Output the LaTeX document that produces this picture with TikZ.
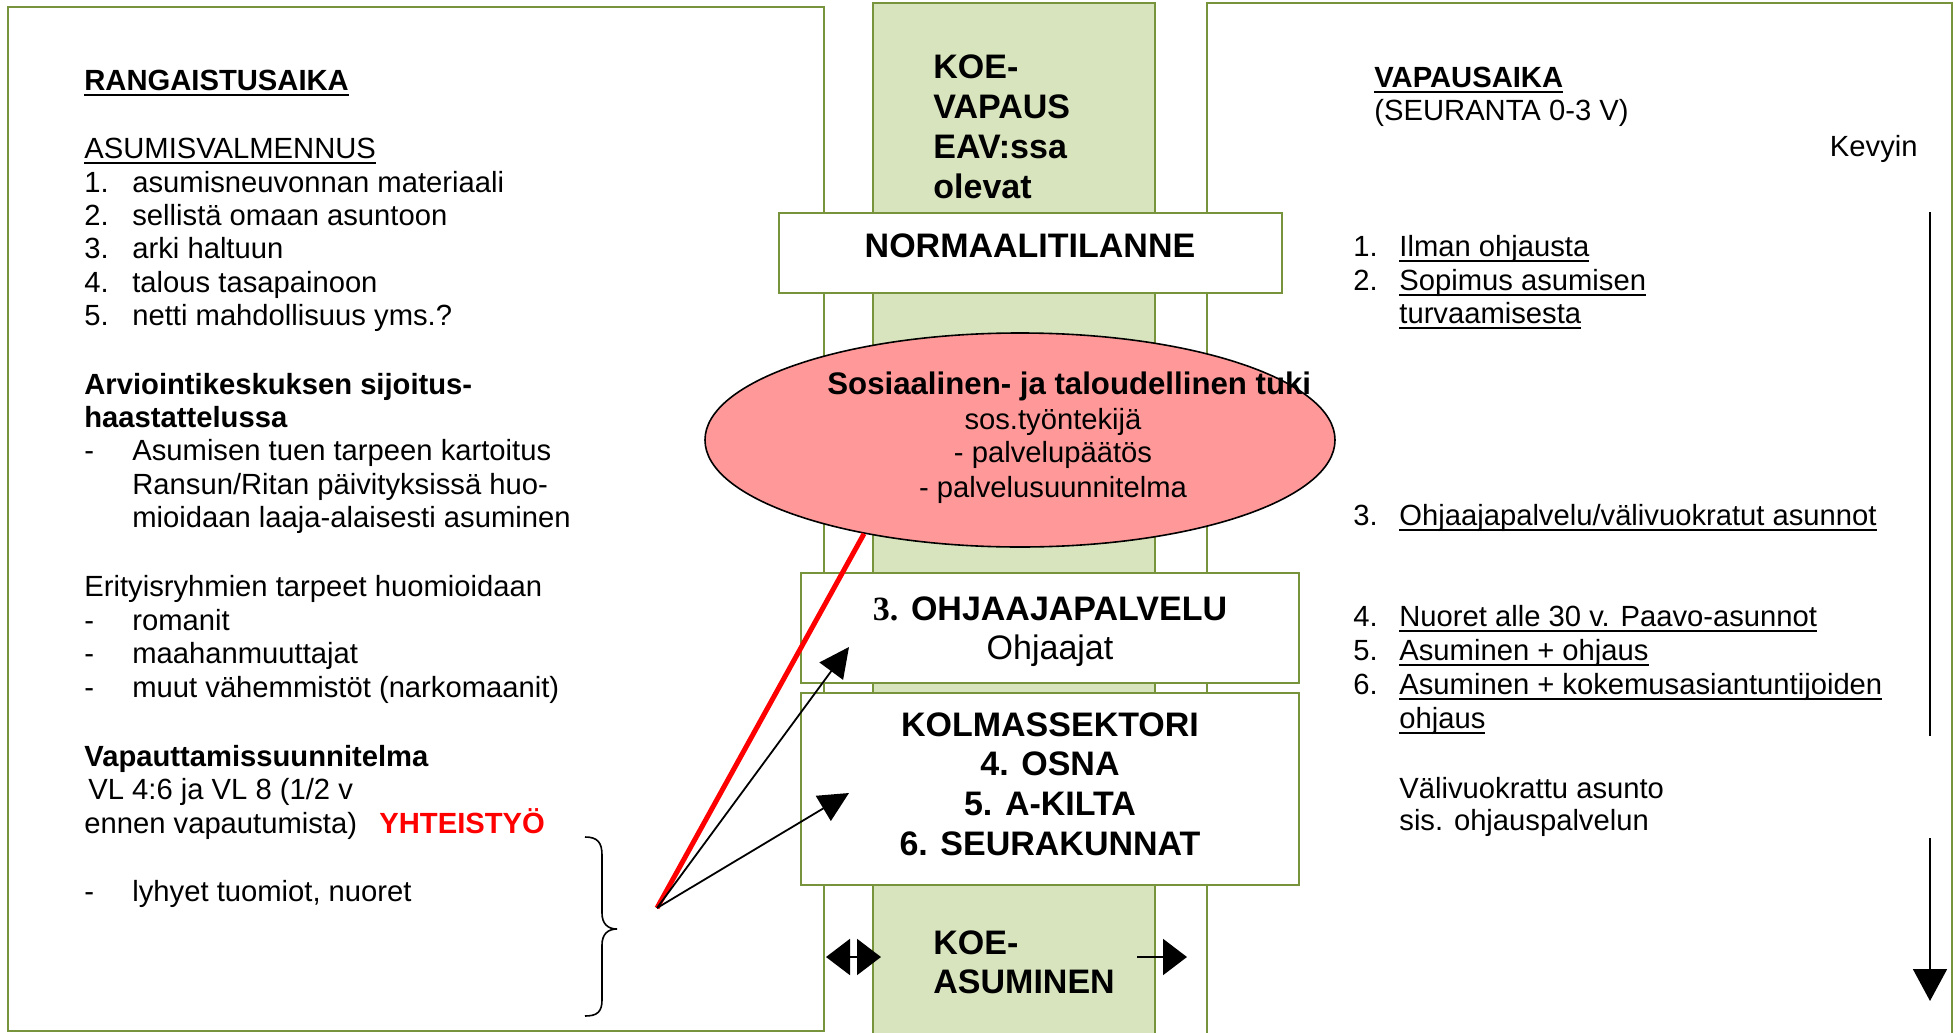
\documentclass[tikz,border=0pt]{standalone}
\usepackage{fontspec}
\setmainfont{Liberation Sans}
\newfontfamily\timesfont{Liberation Serif}
\newcommand{\uln}[1]{\setbox0\hbox{#1}\rlap{\rule[-2.8pt]{\wd0}{0.9pt}}\box0}
\usetikzlibrary{arrows.meta,shapes.geometric}
\definecolor{olivec}{HTML}{77933C}
\definecolor{paleg}{HTML}{D7E4BD}
\definecolor{pinkc}{HTML}{FF9999}
\tikzset{
  txt/.style={anchor=base west, inner sep=0pt, font=\fontsize{14.6}{16.7}\selectfont},
  txtb/.style={anchor=base west, inner sep=0pt, font=\fontsize{14.6}{16.7}\selectfont\bfseries},
  txtc/.style={anchor=base, inner sep=0pt, font=\fontsize{14.6}{16.7}\selectfont},
  bigc/.style={anchor=base, inner sep=0pt, font=\fontsize{17}{20}\selectfont\bfseries},
  bigl/.style={anchor=base west, inner sep=0pt, font=\fontsize{17}{20}\selectfont\bfseries},
  panel/.style={draw=olivec, line width=1pt},
  colbox/.style={draw=olivec, line width=1pt, fill=paleg},
  wbox/.style={draw=olivec, line width=1pt, fill=white, inner sep=0pt},
  ovl/.style={ellipse, draw=black, line width=0.8pt, fill=pinkc, inner sep=0pt},
  arr/.style={line width=0.9pt, -{Triangle[length=15pt,width=14.5pt]}},
  redl/.style={red, line width=2.5pt},
  fat/.style={line width=1pt, {Triangle[length=12pt,width=18pt]}-{Triangle[length=12pt,width=18pt]}},
  fatr/.style={line width=1pt, -{Triangle[length=12pt,width=18pt]}},
  vline/.style={line width=0.9pt},
  varr/.style={line width=0.9pt, -{Triangle[length=16pt,width=17pt]}},
  brace/.style={line width=0.8pt}
}
\newcommand{\nm}[1]{\makebox[24pt][l]{#1}}
\newcommand{\nr}[1]{\makebox[23pt][l]{#1}}
\begin{document}
\begin{tikzpicture}[x=0.5pt,y=-0.5pt]
\useasboundingbox (0,0) rectangle (1955,1033);
% panels
\draw[panel] (8,7) rectangle (824,1031);
\draw[panel] (1207,1045) -- (1207,3) -- (1952,3) -- (1952,1045);
\draw[colbox] (873,1045) -- (873,3) -- (1155,3) -- (1155,1045);
% boxes
\node[wbox, minimum width=251.5pt, minimum height=40pt] (norm) at (1030.5,253) {};
\node[wbox, minimum width=249pt, minimum height=55pt] (ohj) at (1050,628) {};
\node[wbox, minimum width=249pt, minimum height=96pt] (kolm) at (1050,789) {};
\node[ovl, minimum width=315pt, minimum height=107pt] (ell) at (1020,440) {};
% column texts
\node[bigl] (kv1) at (933,78) {KOE-};
\node[bigl] (kv2) at (933,118) {VAPAUS};
\node[bigl] (kv3) at (933,158) {EAV:ssa};
\node[bigl] (kv4) at (933,198) {olevat};
\node[bigc] (normt) at (1030,257) {NORMAALITILANNE};
\node[bigc] (ohjt1) at (1050,620) {{\timesfont\bfseries 3.} OHJAAJAPALVELU};
\node[anchor=base, inner sep=0pt, font=\fontsize{17}{20}\selectfont] (ohjt2) at (1050,659) {Ohjaajat};
\node[bigc] (k1) at (1050,736) {KOLMASSEKTORI};
\node[bigc] (k2) at (1050,775) {4. OSNA};
\node[bigc] (k3) at (1050,815) {5. A-KILTA};
\node[bigc] (k4) at (1050,855) {6. SEURAKUNNAT};
\node[bigl] (ka1) at (933,954) {KOE-};
\node[bigl] (ka2) at (933,993) {ASUMINEN};
% ellipse texts
\node[anchor=base west, inner sep=0pt, font=\fontsize{15.6}{18}\selectfont\bfseries] (e1) at (827,394) {Sosiaalinen- ja taloudellinen tuki};
\node[txtc] (e2) at (1053,429) {sos.työntekijä};
\node[txtc] (e3) at (1053,462) {- palvelupäätös};
\node[txtc] (e4) at (1053,497) {- palvelusuunnitelma};
% left panel texts
\node[txtb] (l1) at (84,90) {\uln{RANGAISTUSAIKA}};
\node[txt] (l2) at (84,158) {\uln{ASUMISVALMENNUS}};
\node[txt] (l3) at (84,192) {\nm{1.}asumisneuvonnan materiaali};
\node[txt] (l4) at (84,225) {\nm{2.}sellistä omaan asuntoon};
\node[txt] (l5) at (84,258) {\nm{3.}arki haltuun};
\node[txt] (l6) at (84,292) {\nm{4.}talous tasapainoon};
\node[txt] (l7) at (84,325) {\nm{5.}netti mahdollisuus yms.?};
\node[txtb] (l8) at (84,394) {Arviointikeskuksen sijoitus-};
\node[txtb] (l9) at (84,427) {haastattelussa};
\node[txt] (l10) at (84,460) {\nm{-}Asumisen tuen tarpeen kartoitus};
\node[txt] (l11) at (84,494) {\nm{}Ransun/Ritan päivityksissä huo-};
\node[txt] (l12) at (84,527) {\nm{}mioidaan laaja-alaisesti asuminen};
\node[txt] (l13) at (84,596) {Erityisryhmien tarpeet huomioidaan};
\node[txt] (l14) at (84,630) {\nm{-}romanit};
\node[txt] (l15) at (84,663) {\nm{-}maahanmuuttajat};
\node[txt] (l16) at (84,697) {\nm{-}muut vähemmistöt (narkomaanit)};
\node[txtb] (l17) at (84,766) {Vapauttamissuunnitelma};
\node[txt] (l18) at (88,799) {VL 4:6 ja VL 8 (1/2 v};
\node[txt] (l19) at (84,833) {ennen vapautumista)};
\node[txtb, text=red] (l20) at (379,833) {YHTEISTYÖ};
\node[txt] (l21) at (84,901) {\nm{-}lyhyet tuomiot, nuoret};
% right panel texts
\node[txtb] (r1) at (1374,87) {\uln{VAPAUSAIKA}};
\node[txt] (r2) at (1374,120) {(SEURANTA 0-3 V)};
\node[txt, anchor=base east] (r3) at (1918,156) {Kevyin};
\node[txt] (r4) at (1353,256) {\nr{1.}\uln{Ilman ohjausta}};
\node[txt] (r5) at (1353,290) {\nr{2.}\uln{Sopimus asumisen}};
\node[txt] (r6) at (1353,323) {\nr{}\uln{turvaamisesta}};
\node[txt] (r7) at (1353,525) {\nr{3.}\uln{Ohjaajapalvelu/välivuokratut asunnot}};
\node[txt] (r8) at (1353,626) {\nr{4.}\uln{Nuoret alle 30 v. Paavo-asunnot}};
\node[txt] (r9) at (1353,660) {\nr{5.}\uln{Asuminen + ohjaus}};
\node[txt] (r10) at (1353,694) {\nr{6.}\uln{Asuminen + kokemusasiantuntijoiden}};
\node[txt] (r11) at (1353,728) {\nr{}\uln{ohjaus}};
\node[txt] (r12) at (1353,798) {\nr{}Välivuokrattu asunto};
\node[txt] (r13) at (1353,830) {\nr{}sis. ohjauspalvelun};
% connectors
\coordinate (src) at (657,908);
\coordinate (t3) at (849,647);
\coordinate (t4) at (849,793);
\draw[redl] (src) -- (ell.211);
\draw[arr] (src) -- (t3);
\draw[arr] (src) -- (t4);
% brace
\draw[brace] (585,837) .. controls (597,837) and (602,842) .. (602,855) -- (602,913) .. controls (602,924) and (608,929) .. (617,929) .. controls (608,929) and (602,934) .. (602,945) -- (602,1000) .. controls (602,1012) and (597,1016) .. (585,1016);
% bottom arrows
\coordinate (da) at (826,957);
\coordinate (db) at (881,957);
\coordinate (ra) at (1137,957);
\coordinate (rb) at (1187,957);
\draw[fat] (da) -- (db);
\draw[fatr] (ra) -- (rb);
% right vertical arrow
\coordinate (v1) at (1930,212);
\coordinate (v2) at (1930,736);
\coordinate (v3) at (1930,838);
\coordinate (v4) at (1930,1001);
\draw[vline] (v1) -- (v2);
\draw[varr] (v3) -- (v4);
\end{tikzpicture}
\end{document}
